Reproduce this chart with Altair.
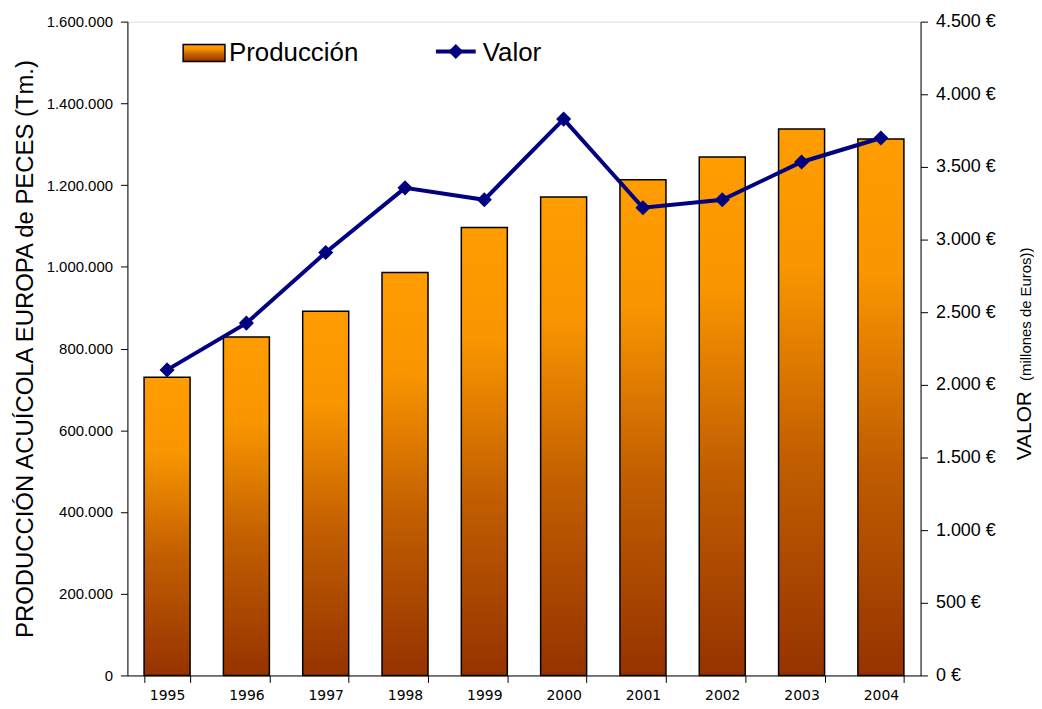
import altair as alt
import pandas as pd

years = ["1995", "1996", "1997", "1998", "1999", "2000", "2001", "2002", "2003", "2004"]
produccion = [730000, 828000, 891000, 986000, 1096000, 1171000, 1213000, 1269000, 1337000, 1313000]
valor = [2103, 2425, 2911, 3356, 3274, 3829, 3219, 3274, 3534, 3699]

left_ticks = [0, 200000, 400000, 600000, 800000, 1000000, 1200000, 1400000, 1600000]
right_ticks = [0, 500, 1000, 1500, 2000, 2500, 3000, 3500, 4000, 4500]

legend_bar_label = ["Producción"]
legend_line_label = ["Valor"]

df = pd.DataFrame({"year": years, "produccion": produccion, "valor": valor})

W, H = 797, 657
ARIAL = "Liberation Sans, Arial, sans-serif"

grad = alt.Gradient(
    gradient="linear",
    x1=0, x2=0, y1=0, y2=1,
    stops=[
        alt.GradientStop(offset=0, color="#FF9C00"),
        alt.GradientStop(offset=0.25, color="#F99600"),
        alt.GradientStop(offset=0.6, color="#C25E00"),
        alt.GradientStop(offset=1, color="#963300"),
    ],
)

x_enc = alt.X(
    "year:N",
    sort=years,
    scale=alt.Scale(paddingInner=0.42, paddingOuter=0.21),
    axis=alt.Axis(
        title=None, labelAngle=0, labelFont="DejaVu Sans", labelFontSize=14,
        labelColor="black", tickBand="extent", tickColor="black", tickSize=7,
        domainColor="black", labelPadding=6,
    ),
)

bars = alt.Chart(df).mark_bar(fill=grad, stroke="black", strokeWidth=1.5).encode(
    x=x_enc,
    y=alt.Y(
        "produccion:Q",
        scale=alt.Scale(domain=[0, 1600000], nice=False),
        axis=alt.Axis(
            values=left_ticks, grid=False,
            labelExpr="replace(format(datum.value, ','), /,/g, '.')",
            labelFont=ARIAL, labelFontSize=15, labelColor="black", labelPadding=8,
            tickColor="black", tickSize=7, domainColor="black",
            title="PRODUCCIÓN ACUÍCOLA EUROPA de PECES (Tm.)",
            titleFont=ARIAL, titleFontSize=24, titleFontWeight="normal", titleColor="black",
            titleAngle=270, titleX=-95, titleY=H / 2, titleAlign="center",
            titleBaseline="alphabetic",
        ),
    ),
)

line_y = alt.Y(
    "valor:Q",
    scale=alt.Scale(domain=[0, 4500], nice=False),
    axis=alt.Axis(
        orient="right", values=right_ticks, grid=False,
        labelExpr="replace(format(datum.value, ','), /,/g, '.') + ' €'",
        labelFont=ARIAL, labelFontSize=18, labelColor="black", labelPadding=8,
        tickColor="black", tickSize=7, domainColor="black", title=None,
    ),
)

line = alt.Chart(df).mark_line(color="#000080", strokeWidth=4).encode(x=x_enc, y=line_y)
pts = alt.Chart(df).mark_point(
    shape="diamond", filled=True, size=230, color="#000080", opacity=1
).encode(x=x_enc, y=line_y)

val_layer = alt.layer(line, pts)

# Right axis title (mixed font sizes)
t1 = alt.Chart(pd.DataFrame({"t": ["VALOR"]})).mark_text(
    font=ARIAL, fontSize=21, angle=270, align="center", baseline="alphabetic", color="black"
).encode(x=alt.value(908), y=alt.value(406), text="t:N")
t2 = alt.Chart(pd.DataFrame({"t": ["(millones de Euros))"]})).mark_text(
    font=ARIAL, fontSize=15, angle=270, align="center", baseline="alphabetic", color="black"
).encode(x=alt.value(908), y=alt.value(294), text="t:N")

# Legend
leg_rect = alt.Chart(pd.DataFrame({"t": legend_bar_label})).mark_rect(
    fill=grad, stroke="black", strokeWidth=1.5
).encode(x=alt.value(56), x2=alt.value(98), y=alt.value(23), y2=alt.value(40))
leg_t1 = alt.Chart(pd.DataFrame({"t": legend_bar_label})).mark_text(
    font=ARIAL, fontSize=26, align="left", baseline="alphabetic", color="black"
).encode(x=alt.value(102), y=alt.value(40), text="t:N")
leg_rule = alt.Chart(pd.DataFrame({"t": legend_line_label})).mark_rule(
    color="#000080", strokeWidth=4
).encode(x=alt.value(310), x2=alt.value(350), y=alt.value(30))
leg_pt = alt.Chart(pd.DataFrame({"t": legend_line_label})).mark_point(
    shape="diamond", filled=True, size=230, color="#000080", opacity=1
).encode(x=alt.value(330), y=alt.value(30))
leg_t2 = alt.Chart(pd.DataFrame({"t": legend_line_label})).mark_text(
    font=ARIAL, fontSize=26, align="left", baseline="alphabetic", color="black"
).encode(x=alt.value(357), y=alt.value(40), text="t:N")

chart = alt.layer(
    bars, val_layer, t1, t2, leg_rect, leg_t1, leg_rule, leg_pt, leg_t2
).resolve_scale(y="independent").properties(
    width=W, height=H,
    autosize=alt.AutoSizeParams(type="none"),
    padding={"left": 120, "top": 12, "right": 114, "bottom": 28},
).configure_view(stroke=None).configure(background="white")

chart.save("out.html", embed_options={"renderer": "svg", "actions": False})
